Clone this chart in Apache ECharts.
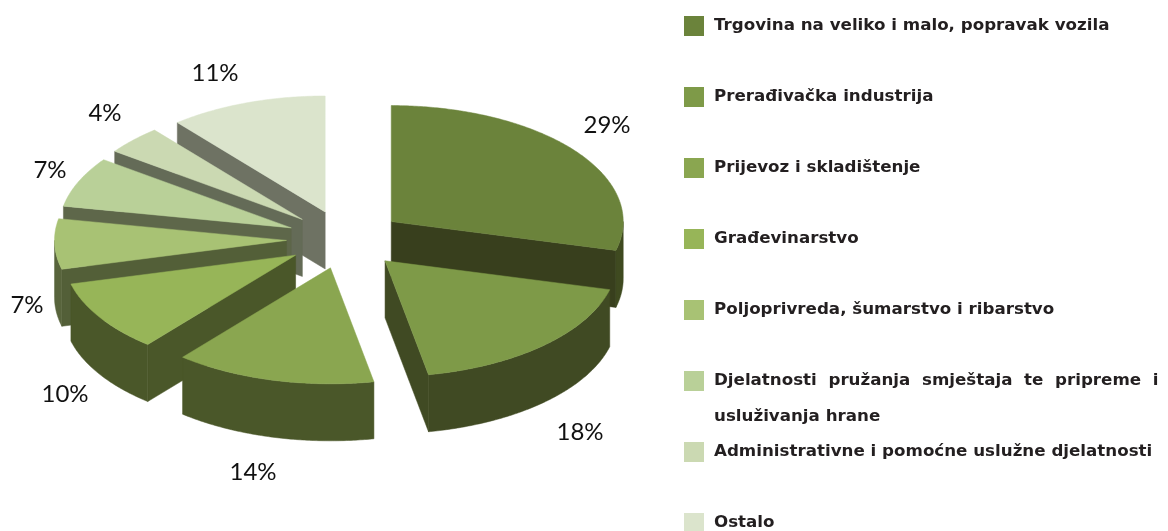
<!DOCTYPE html>
<html>
<head>
<meta charset="utf-8">
<style>
    html, body { margin: 0; padding: 0; background: #fff; }
    #chart { width: 1168px; height: 531px; }
</style>
<script src="https://cdn.jsdelivr.net/npm/echarts@6/dist/echarts.min.js"></script>
</head>
<body>
<div id="chart"></div>
<script>
const categories = [
    'Trgovina na veliko i malo, popravak vozila',
    'Prerađivačka industrija',
    'Prijevoz i skladištenje',
    'Građevinarstvo',
    'Poljoprivreda, šumarstvo i ribarstvo',
    'Djelatnosti pružanja smještaja te pripreme i\nusluživanja hrane',
    'Administrativne i pomoćne uslužne djelatnosti',
    'Ostalo'
]
const shares = [29, 18, 14, 10, 7, 7, 4, 11]

const topColors = ['#6b833b', '#7e9a48', '#8aa650', '#97b558', '#a8c274', '#b9d098', '#cbd9b2', '#dbe4cc']
const cutColors = ['#383f1d', '#404a23', '#4a5729', '#4a5729', '#535f38', '#5e674a', '#646b57', '#6e7263']
const rimColors = ['#3f4a20', '#404a23', '#4a5729', '#4a5729', '#58643c', '#5e674a', '#646b57', '#6e7263']

// where each percentage sits, centre of the text
const labelSpots = [[607, 125], [580, 432], [253, 472], [65, 394], [27, 305], [50, 170], [105, 113], [215, 73]]

// back to front
const drawOrder = [0, 7, 6, 5, 4, 3, 2, 1]

const pie = { cx: 345, cy: 239.5, rx: 232, ry: 116, depth: 57, explode: 58.5 }
const total = shares.reduce((a, b) => a + b, 0)

const toRad = (value) => value / total * Math.PI * 2

const pointAt = (center, angle) => [
    center[0] + pie.rx * Math.sin(angle),
    center[1] - pie.ry * Math.cos(angle)
]

const drop = (p) => [p[0], p[1] + pie.depth]

const arcPoints = (center, from, to) => {
    const steps = Math.max(2, Math.ceil((to - from) / 0.01))
    const points = []
    for (let i = 0; i <= steps; i++) {
        points.push(pointAt(center, from + (to - from) * i / steps))
    }
    return points
}

const poly = (points, color) => ({
    type: 'polygon',
    shape: { points },
    style: { fill: color, stroke: color, lineWidth: 0.5 }
})

const drawSlice = (index) => {
    const before = shares.slice(0, index).reduce((a, b) => a + b, 0)
    const from = toRad(before)
    const to = toRad(before + shares[index])
    const mid = (from + to) / 2
    const center = [
        pie.cx + pie.explode * Math.sin(mid),
        pie.cy - pie.explode * Math.cos(mid) * pie.ry / pie.rx
    ]
    const children = []

    // a cut face shows only when its edge runs so that it faces the viewer
    const startEdge = pointAt(center, from)
    const endEdge = pointAt(center, to)
    if (startEdge[0] < center[0]) {
        children.push(poly([center, startEdge, drop(startEdge), drop(center)], cutColors[index]))
    }
    if (endEdge[0] > center[0]) {
        children.push(poly([center, endEdge, drop(endEdge), drop(center)], cutColors[index]))
    }

    // the outer wall, front half of the ellipse only
    const wallFrom = Math.max(from, Math.PI / 2)
    const wallTo = Math.min(to, Math.PI * 1.5)
    if (wallTo > wallFrom) {
        const rim = arcPoints(center, wallFrom, wallTo)
        children.push(poly(rim.concat(rim.map(drop).reverse()), rimColors[index]))
    }

    children.push(poly([center].concat(arcPoints(center, from, to)), topColors[index]))
    children.push({
        type: 'text',
        style: {
            x: labelSpots[index][0],
            y: labelSpots[index][1],
            text: shares[index] + '%',
            font: '24px Lato',
            fill: '#111111',
            align: 'center',
            verticalAlign: 'middle'
        }
    })
    return { type: 'group', children }
}

const myChart = echarts.init(document.getElementById('chart'))
myChart.setOption({
    animation: false,
    legend: {
        data: categories,
        orient: 'vertical',
        left: 684,
        top: 14,
        height: 600,
        padding: 0,
        icon: 'rect',
        itemWidth: 20,
        itemHeight: 20,
        itemGap: 47,
        selectedMode: false,
        formatter: (name) => name.includes('\n')
            ? name.split('\n')[0].replace(/ /g, '  ')
            : name,
        textStyle: {
            fontFamily: 'DejaVu Sans',
            fontWeight: 700,
            fontSize: 16.7,
            lineHeight: 20,
            color: '#231f20',
            padding: [4, 0, 0, 5]
        }
    },
    graphic: [{
        type: 'text',
        left: 714,
        top: 408,
        style: {
            text: categories[5].split('\n')[1],
            font: '700 16.7px "DejaVu Sans"',
            fill: '#231f20'
        }
    }],
    series: categories.map((name, index) => ({
        name,
        type: 'custom',
        coordinateSystem: 'none',
        z: 2 + drawOrder.indexOf(index),
        silent: true,
        itemStyle: { color: topColors[index] },
        data: [shares[index]],
        renderItem: () => drawSlice(index)
    }))
})
</script>
</body>
</html>
